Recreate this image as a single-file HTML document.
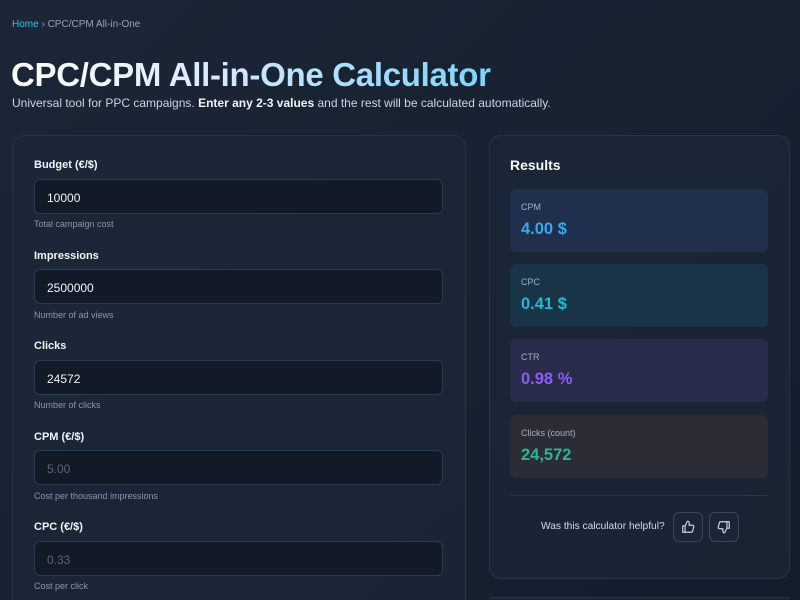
<!DOCTYPE html>
<html style="width:800px;height:600px;overflow:hidden"><head><meta charset="utf-8"><style>
*{box-sizing:border-box;margin:0;padding:0}
body{width:800px;height:600px;overflow:hidden;background:linear-gradient(135deg,#1b2636 0%,#172130 60%,#141d2b 100%);font-family:"Liberation Sans","DejaVu Sans",sans-serif;color:#e2e8f0;position:relative}
.abs{position:absolute}
.crumb{left:12px;top:19px;font-size:10px;color:#94a3b8}
.crumb a{color:#38bdf8;text-decoration:none}
h1{font-size:33px;font-weight:bold;background:linear-gradient(90deg,#ffffff 0%,#dbeafe 40%,#7dd3fc 100%);-webkit-background-clip:text;background-clip:text;color:transparent;white-space:nowrap;letter-spacing:-0.3px}
.sub{left:12px;top:96px;font-size:12px;color:#cbd5e1;white-space:nowrap}
.sub b{color:#f1f5f9}
.card{background:rgba(30,41,59,0.55);border:1px solid #273447;border-radius:12px}
.lbl{left:34px;font-size:11px;font-weight:bold;color:#f1f5f9}
.inp{left:34px;width:409px;height:35px;background:#121a28;border:1px solid #2c3a4f;border-radius:6px;font-size:12px;color:#f1f5f9;padding:11px 12px}
.inp.ph{color:#5b6576}
.help{left:34px;font-size:9px;color:#8b96a8}
.res{left:510px;width:258px;height:63px;border-radius:6px}
.res .t{position:absolute;left:11px;top:13px;font-size:9px;color:#a5b0c0}
.res .v{position:absolute;left:11px;top:31px;font-size:16.5px;font-weight:bold}
.btn{top:512px;width:30px;height:30px;border:1px solid #3a4759;border-radius:6px;background:#1b2535;display:flex;align-items:center;justify-content:center}
</style></head><body>
<div class="abs crumb"><a>Home</a> › CPC/CPM All-in-One</div>
<div class="abs" style="left:11px;top:56px"><h1>CPC/CPM All-in-One Calculator</h1></div>
<div class="abs sub">Universal tool for PPC campaigns. <b>Enter any 2-3 values</b> and the rest will be calculated automatically.</div>

<div class="abs card" style="left:12px;top:135px;width:454px;height:465px;border-bottom:none;border-radius:12px 12px 0 0"></div>
<div class="abs lbl" style="top:159px">Budget (€/$)</div>
<div class="abs inp" style="top:179px">10000</div>
<div class="abs help" style="top:219px">Total campaign cost</div>
<div class="abs lbl" style="top:250px">Impressions</div>
<div class="abs inp" style="top:269px">2500000</div>
<div class="abs help" style="top:310px">Number of ad views</div>
<div class="abs lbl" style="top:340px">Clicks</div>
<div class="abs inp" style="top:360px">24572</div>
<div class="abs help" style="top:400px">Number of clicks</div>
<div class="abs lbl" style="top:431px">CPM (€/$)</div>
<div class="abs inp ph" style="top:450px">5.00</div>
<div class="abs help" style="top:491px">Cost per thousand impressions</div>
<div class="abs lbl" style="top:521px">CPC (€/$)</div>
<div class="abs inp ph" style="top:541px">0.33</div>
<div class="abs help" style="top:581px">Cost per click</div>

<div class="abs card" style="left:489px;top:135px;width:301px;height:444px"></div>
<div class="abs card" style="left:489px;top:597px;width:301px;height:3px;border-bottom:none;border-radius:12px 12px 0 0"></div>
<div class="abs" style="left:510px;top:157px;font-size:14px;font-weight:bold;color:#f8fafc">Results</div>
<div class="abs res" style="top:189px;background:#1f2f4d"><div class="t">CPM</div><div class="v" style="color:#3ba8e8">4.00 $</div></div>
<div class="abs res" style="top:264px;background:#193447"><div class="t">CPC</div><div class="v" style="color:#22b8cf">0.41 $</div></div>
<div class="abs res" style="top:339px;background:#282b4a"><div class="t">CTR</div><div class="v" style="color:#8b5cf6">0.98 %</div></div>
<div class="abs res" style="top:415px;background:#2c2c37"><div class="t">Clicks (count)</div><div class="v" style="color:#2bb596">24,572</div></div>
<div class="abs" style="left:510px;top:495px;width:258px;height:1px;background:#2a3648"></div>
<div class="abs" style="left:541px;top:521px;font-size:10.2px;color:#d5dbe4">Was this calculator helpful?</div>
<div class="abs btn" style="left:673px"><svg width="14" height="14" viewBox="0 0 24 24" fill="none" stroke="#cbd5e1" stroke-width="2"><path d="M7 10v11H3V10h4zM7 10l4-8c1.5 0 3 1 3 3v4h6c1 0 2 1 2 2l-2 8c-.3 1-1 2-2 2H7"/></svg></div>
<div class="abs btn" style="left:709px"><svg width="14" height="14" viewBox="0 0 24 24" fill="none" stroke="#cbd5e1" stroke-width="2"><path d="M17 14V3h4v11h-4zM17 14l-4 8c-1.5 0-3-1-3-3v-4H4c-1 0-2-1-2-2l2-8c.3-1 1-2 2-2h11"/></svg></div>
</body></html>
